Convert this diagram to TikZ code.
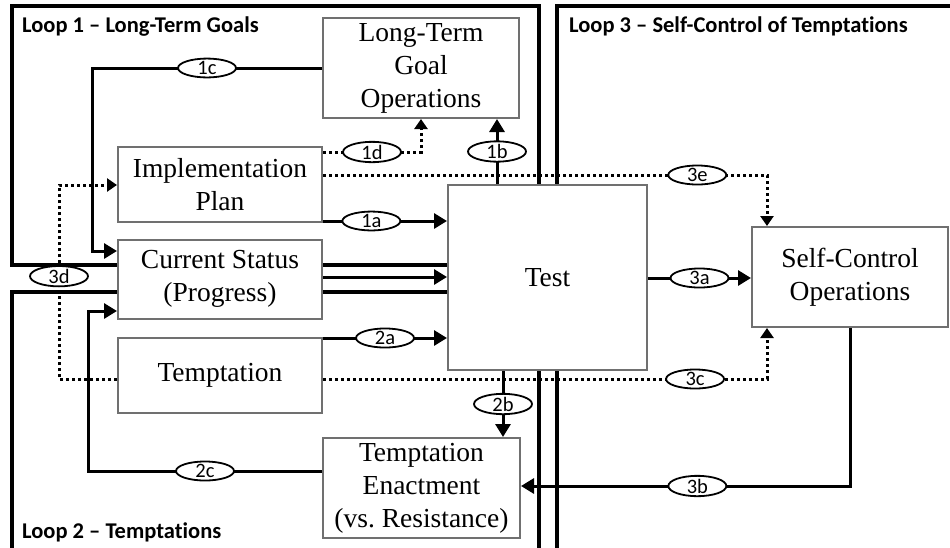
\documentclass[tikz,border=0pt]{standalone}
\usepackage{fontspec}
\setmainfont{Liberation Serif}
\newfontfamily\labelfont[Ligatures=NoCommon]{Carlito}
\usetikzlibrary{arrows.meta,shapes.geometric}
\definecolor{boxgray}{HTML}{707070}

\begin{document}
\begin{tikzpicture}[x=1pt,y=-1pt,
  box/.style={draw=boxgray, line width=2pt, fill=white, align=center,
    font=\fontsize{27.5}{33}\selectfont, inner sep=0pt},
  lab/.style={ellipse, draw, solid, line width=1.8pt, fill=white, minimum width=58pt,
    minimum height=18pt, inner sep=0pt, font=\labelfont\fontsize{20.5}{20.5}\selectfont},
  conn/.style={line width=3pt},
  dotconn/.style={line width=3pt, dash pattern=on 3pt off 3pt},
  solidtip/.style={-{Triangle[length=13pt,width=15pt]}},
  dottip/.style={-{Triangle[length=10pt,width=13pt]}},
  loopframe/.style={line width=4pt},
  looptitle/.style={font=\labelfont\bfseries\fontsize{22.5}{22.5}\selectfont,
    anchor=base west, inner sep=0pt}]

\useasboundingbox (0,0) rectangle (950,547);
\clip (0,0) rectangle (950,547);

% loop frames
\draw[loopframe] (12,6) rectangle (539,265);
\draw[loopframe] (12,292) rectangle (539,560);
\draw[loopframe] (557,6) rectangle (965,560);

\node[looptitle] (t1) at (22,32) {Loop 1 – Long-Term Goals};
\node[looptitle] (t2) at (22,538) {Loop 2 – Temptations};
\node[looptitle] (t3) at (569,32) {Loop 3 – Self-Control of Temptations};

% boxes
\node[box, minimum width=196pt, minimum height=100pt] (ltgo) at (421,68) {Long-Term\\Goal\\Operations};
\node[box, minimum width=204pt, minimum height=75pt] (impl) at (220,184.5) {Implementation\\Plan};
\node[box, minimum width=204pt, minimum height=79pt] (cs) at (220,279) {Current Status\\(Progress)};
\node[box, minimum width=204pt, minimum height=75pt] (tempt) at (220,375.5) {Temptation};
\node[box, minimum width=199pt, minimum height=185pt] (test) at (547.5,277.5) {Test};
\node[box, minimum width=196pt, minimum height=100pt] (sc) at (850,277) {Self-Control\\Operations};
\node[box, minimum width=197pt, minimum height=100pt] (te) at (421.5,488) {Temptation\\Enactment\\(vs.\ Resistance)};

% bend points and levels
\coordinate (k1c) at (92,251);
\coordinate (k1d) at (421,152);
\coordinate (x1b) at (497,0);
\coordinate (k1a) at (0,221);
\coordinate (k3e) at (767,175);
\coordinate (k3d) at (59,185);
\coordinate (k3dlow) at (59,379);
\coordinate (k3c) at (767,379);
\coordinate (k2a) at (0,338);
\coordinate (x2b) at (503,0);
\coordinate (k2c) at (88,311);
\coordinate (k2clow) at (88,471);
\coordinate (kcs) at (0,277);
\coordinate (k3a) at (0,278);
\coordinate (k3b) at (850,486);

% loop 1
\draw[conn, solidtip] (ltgo.west) -- node[lab] (l1c) {1c} (ltgo.west -| k1c) -- (k1c) -- (cs.west |- k1c);
\draw[dotconn, dottip] (impl.east |- k1d) -- node[lab] (l1d) {1d} (k1d) -- (ltgo.south -| k1d);
\draw[conn, solidtip] (test.north -| x1b) -- node[lab] (l1b) {1b} (ltgo.south -| x1b);
\draw[conn, solidtip] (impl.east |- k1a) -- node[lab, pos=0.39] (l1a) {1a} (test.west |- k1a);
\draw[conn, solidtip] (cs.east |- kcs) -- (test.west |- kcs);

% loop 2
\draw[conn, solidtip] (tempt.east |- k2a) -- node[lab] (l2a) {2a} (test.west |- k2a);
\draw[conn, solidtip] (test.south -| x2b) -- node[lab] (l2b) {2b} (te.north -| x2b);
\draw[conn, solidtip] (te.west |- k2clow) -- node[lab] (l2c) {2c} (k2clow) -- (k2c) -- (cs.west |- k2c);

% loop 3
\draw[conn, solidtip] (test.east |- k3a) -- node[lab] (l3a) {3a} (sc.west |- k3a);
\draw[conn, solidtip] (sc.south -| k3b) -- (k3b) -- node[lab, pos=0.464] (l3b) {3b} (te.east |- k3b);
\draw[dotconn, dottip] (impl.east |- k3e) -- node[lab, pos=0.843] (l3e) {3e} (k3e) -- (sc.north -| k3e);
\draw[dotconn, dottip] (tempt.east |- k3c) -- node[lab, pos=0.838] (l3c) {3c} (k3c) -- (sc.south -| k3c);
\draw[dotconn, dottip] (tempt.west |- k3dlow) -- (k3dlow) -- node[lab, pos=0.53] (l3d) {3d} (k3d) -- (impl.west |- k3d);

\end{tikzpicture}
\end{document}
